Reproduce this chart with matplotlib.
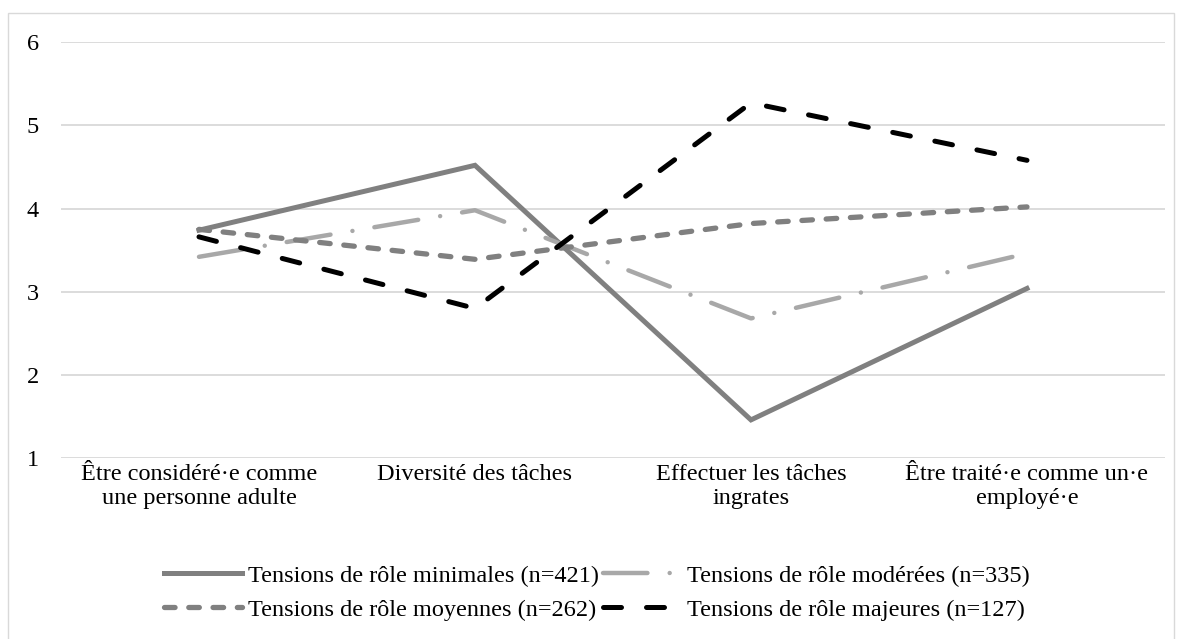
import matplotlib.pyplot as plt
import numpy as np

plt.rcParams['font.family'] = ['Liberation Serif', 'DejaVu Serif']

# Data
categories = ['Être considéré·e comme\nune personne adulte', 'Diversité des tâches',
              'Effectuer les tâches\ningrates', 'Être traité·e comme un·e\nemployé·e']
minimales = [3.74, 4.52, 1.46, 3.04]
moderees = [3.42, 3.98, 2.68, 3.46]
moyennes = [3.75, 3.39, 3.82, 4.02]
majeures = [3.66, 2.80, 5.27, 4.58]

labels = ['Tensions de rôle minimales (n=421)', 'Tensions de rôle modérées (n=335)',
          'Tensions de rôle moyennes (n=262)', 'Tensions de rôle majeures (n=127)']

fig = plt.figure(figsize=(11.82, 6.39), dpi=100)
ax = fig.add_axes([0.0516, 0.283, 0.934, 0.651])

x = np.arange(len(categories))
l1, = ax.plot(x, minimales, color='#808080', lw=3.6, solid_joinstyle='miter')
l2, = ax.plot(x, moderees, color='#a8a8a8', lw=3.2, dashes=(10, 5, 0.01, 5), dash_capstyle='round')
l3, = ax.plot(x, moyennes, color='#808080', lw=3.8, dashes=(2.0, 2.6), dash_capstyle='round')
l4, = ax.plot(x, majeures, color='black', lw=3.6, dashes=(3.6, 5.0), dash_capstyle='round')

ax.set_xlim(-0.5, 3.5)
ax.set_ylim(1, 6)
ax.set_yticks([1, 2, 3, 4, 5, 6])
ax.set_xticks(x)
ax.set_xticklabels(categories, fontsize=17.5)
ax.tick_params(axis='y', labelsize=17.5, length=0, pad=16)
ax.tick_params(axis='x', length=0, pad=4)
ax.grid(axis='y', color='#d9d9d9', lw=1.3)
ax.set_axisbelow(True)
for s in ax.spines.values():
    s.set_visible(False)

fig.legend([l1, l3, l2, l4], [labels[0], labels[2], labels[1], labels[3]],
           ncol=2, loc='lower center', bbox_to_anchor=(0.505, -0.006), frameon=False,
           fontsize=17.5, handlelength=3.2, handletextpad=0.25, columnspacing=0.2,
           labelspacing=0.5)

# Light frame round the chart
fig.patches.append(plt.Rectangle((0.007, -0.05), 0.986, 1.03, transform=fig.transFigure,
                                 fill=False, edgecolor='#d9d9d9', lw=1))

plt.savefig('out.png', dpi=100)
